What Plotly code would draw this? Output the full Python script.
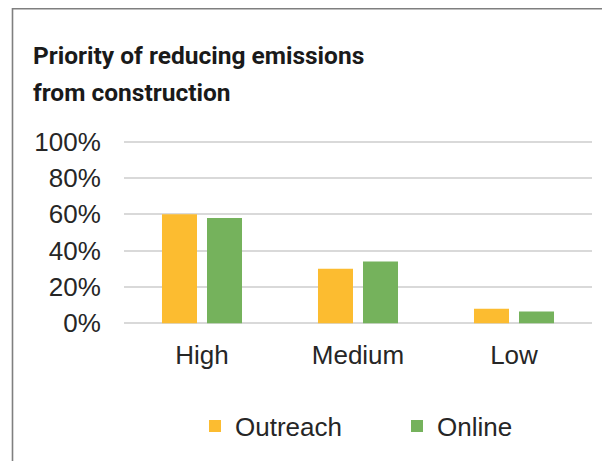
import plotly.graph_objects as go

categories = ["High", "Medium", "Low"]
outreach = [60, 30, 8]
online = [58, 34, 6.5]
y_ticks = [0, 20, 40, 60, 80, 100]
y_tick_labels = ["0%", "20%", "40%", "60%", "80%", "100%"]
title_lines = ["Priority of reducing emissions", "from construction"]

# page body has an 8px margin: figure covers window px 8..610 / 8..461
OFF = 8
W, H = 602, 453
ML, MR, MT, MB = 116, 18, 132, 136
PH = H - MT - MB
PW = W - ML - MR

def px_x(x):
    # x given in window pixels
    return (x - OFF - ML) / PW

def px_y(y):
    return (H - MB - (y - OFF)) / PH

fig = go.Figure()
fig.add_trace(go.Bar(name="Outreach", x=categories, y=outreach,
                     marker=dict(color="#FCBC30", line=dict(width=0))))
fig.add_trace(go.Bar(name="Online", x=categories, y=online,
                     marker=dict(color="#75B25C", line=dict(width=0))))

font_main = "Liberation Sans, Arial, sans-serif"
font_title = "Roboto, Liberation Sans, Arial, sans-serif"

fig.update_layout(
    width=W, height=H,
    margin=dict(l=ML, r=MR, t=MT, b=MB, pad=0, autoexpand=False),
    paper_bgcolor="white", plot_bgcolor="white",
    barmode="group", bargap=0.423, bargroupgap=0.222,
    font=dict(family=font_main, size=26, color="#262626"),
    showlegend=True,
    legend=dict(orientation="h", x=px_x(195), xanchor="left", y=px_y(426), yanchor="middle",
                entrywidth=157, entrywidthmode="pixels",
                font=dict(size=26, color="#262626"), itemclick=False),
    xaxis=dict(showgrid=False, zeroline=False, showline=False,
               ticks="outside", ticklen=7, tickcolor="rgba(0,0,0,0)",
               tickfont=dict(size=26)),
    yaxis=dict(range=[-1, 101], tickvals=y_ticks, ticktext=y_tick_labels,
               showgrid=True, gridcolor="#D9D9D9", gridwidth=1.5,
               zeroline=False, showline=False,
               ticks="outside", ticklen=17, tickcolor="rgba(0,0,0,0)",
               tickfont=dict(size=26)),
)

fig.add_annotation(text="<b>" + title_lines[0] + "</b>", xref="paper", yref="paper",
                   x=px_x(31), y=px_y(55), xanchor="left", yanchor="middle",
                   showarrow=False, font=dict(family=font_title, size=24.5, color="#1a1a1a"))
fig.add_annotation(text="<b>" + title_lines[1] + "</b>", xref="paper", yref="paper",
                   x=px_x(31), y=px_y(92), xanchor="left", yanchor="middle",
                   showarrow=False, font=dict(family=font_title, size=24.5, color="#1a1a1a"))

# frame lines (top and left)
fig.add_shape(type="line", xref="paper", yref="paper",
              x0=px_x(12.5), x1=px_x(620), y0=px_y(8.8), y1=px_y(8.8),
              line=dict(color="#7F7F7F", width=1.6))
fig.add_shape(type="line", xref="paper", yref="paper",
              x0=px_x(12.5), x1=px_x(12.5), y0=px_y(8), y1=px_y(470),
              line=dict(color="#7F7F7F", width=1.6))

fig.write_html("out.html")
